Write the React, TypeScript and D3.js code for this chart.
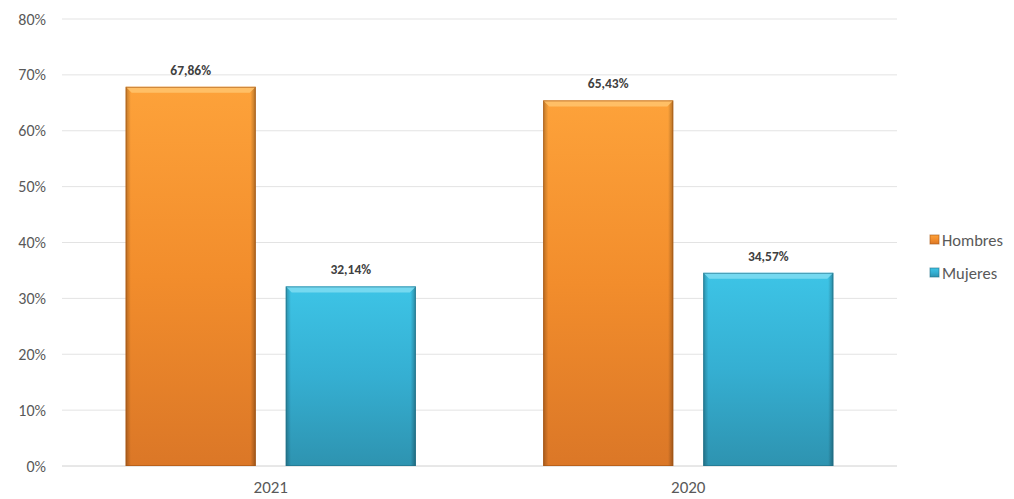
import React from "react";
import * as d3 from "d3";

const categories = ["2021", "2020"];
const seriesNames = ["Hombres", "Mujeres"];
const hombres = [67.86, 65.43];
const mujeres = [32.14, 34.57];
const yTicks = [0, 10, 20, 30, 40, 50, 60, 70, 80];

const W = 1014, H = 499;
const m = { left: 62, right: 117, top: 19, bottom: 33 };

export default function App() {
  const x0 = d3.scaleBand().domain(categories).range([m.left, W - m.right]).paddingInner(0.305).paddingOuter(0.1525);
  const x1 = d3.scaleBand().domain(seriesNames).range([0, x0.bandwidth()]).paddingInner(0.1875);
  const y = d3.scaleLinear().domain([0, 80]).range([H - m.bottom, m.top]);
  const vals: Record<string, number[]> = { Hombres: hombres, Mujeres: mujeres };
  const font = "Calibri, Carlito, Lato, 'Open Sans', sans-serif";

  return (
    <svg width={W} height={H} style={{ position: "absolute", left: 0, top: 0, background: "#fff" }}>
      <defs>
        <linearGradient id="gH" x1="0" y1="0" x2="0" y2="1">
          <stop offset="0" stopColor="#FDA23A" />
          <stop offset="0.5" stopColor="#F28D2C" />
          <stop offset="1" stopColor="#DB7727" />
        </linearGradient>
        <linearGradient id="gM" x1="0" y1="0" x2="0" y2="1">
          <stop offset="0" stopColor="#3DC4E6" />
          <stop offset="0.5" stopColor="#35AFD2" />
          <stop offset="1" stopColor="#2E93B0" />
        </linearGradient>
        <linearGradient id="side" x1="0" y1="0" x2="1" y2="0">
          <stop offset="0" stopColor="#000" stopOpacity="0.25" />
          <stop offset="0.04" stopColor="#000" stopOpacity="0" />
          <stop offset="0.96" stopColor="#000" stopOpacity="0" />
          <stop offset="1" stopColor="#000" stopOpacity="0.3" />
        </linearGradient>
      </defs>
      {yTicks.map((t) => (
        <g key={t}>
          <line x1={m.left} x2={W - m.right} y1={y(t)} y2={y(t)} stroke={t === 0 ? "#D0D0D0" : "#E3E3E3"} strokeWidth={1} />
          <text x={m.left - 16} y={y(t)} dy="0.35em" textAnchor="end" fontFamily={font} fontSize={16} fill="#595959">{t}%</text>
        </g>
      ))}
      {categories.map((c, i) => (
        <g key={c}>
          {seriesNames.map((s) => {
            const v = vals[s][i];
            const bx = (x0(c) as number) + (x1(s) as number);
            const bw = x1.bandwidth();
            const by = y(v);
            const bh = y(0) - by;
            const light = s === "Hombres" ? "#FFC46E" : "#7FDDF2";
            const dark = s === "Hombres" ? "#A45412" : "#1F6E85";
            return (
              <g key={s}>
                <rect x={bx} y={by} width={bw} height={bh} fill={s === "Hombres" ? "url(#gH)" : "url(#gM)"} />
                <rect x={bx} y={by} width={bw} height={bh} fill="url(#side)" />
                <polygon points={`${bx},${by} ${bx + bw},${by} ${bx + bw - 6},${by + 6} ${bx + 6},${by + 6}`} fill={light} opacity={0.85} />
                <rect x={bx + 0.5} y={by + 0.5} width={bw - 1} height={bh - 1} fill="none" stroke={dark} strokeOpacity={0.6} strokeWidth={1} />
                <text x={bx + bw / 2} y={by - 12} textAnchor="middle" fontFamily={font} fontSize={13.5} fontWeight="bold" fill="#404040">
                  {v.toFixed(2).replace(".", ",")}%
                </text>
              </g>
            );
          })}
          <text x={(x0(c) as number) + x0.bandwidth() / 2} y={H - 6} textAnchor="middle" fontFamily={font} fontSize={17} fill="#595959">{c}</text>
        </g>
      ))}
      {seriesNames.map((s, i) => (
        <g key={s} transform={`translate(930, ${240 + i * 33})`}>
          <rect x={0} y={-5} width={9} height={9} fill={s === "Hombres" ? "url(#gH)" : "url(#gM)"} stroke={s === "Hombres" ? "#A45412" : "#1F6E85"} strokeOpacity={0.6} />
          <text x={12} y={0} dy="0.35em" fontFamily={font} fontSize={16.5} fill="#595959">{s}</text>
        </g>
      ))}
    </svg>
  );
}
